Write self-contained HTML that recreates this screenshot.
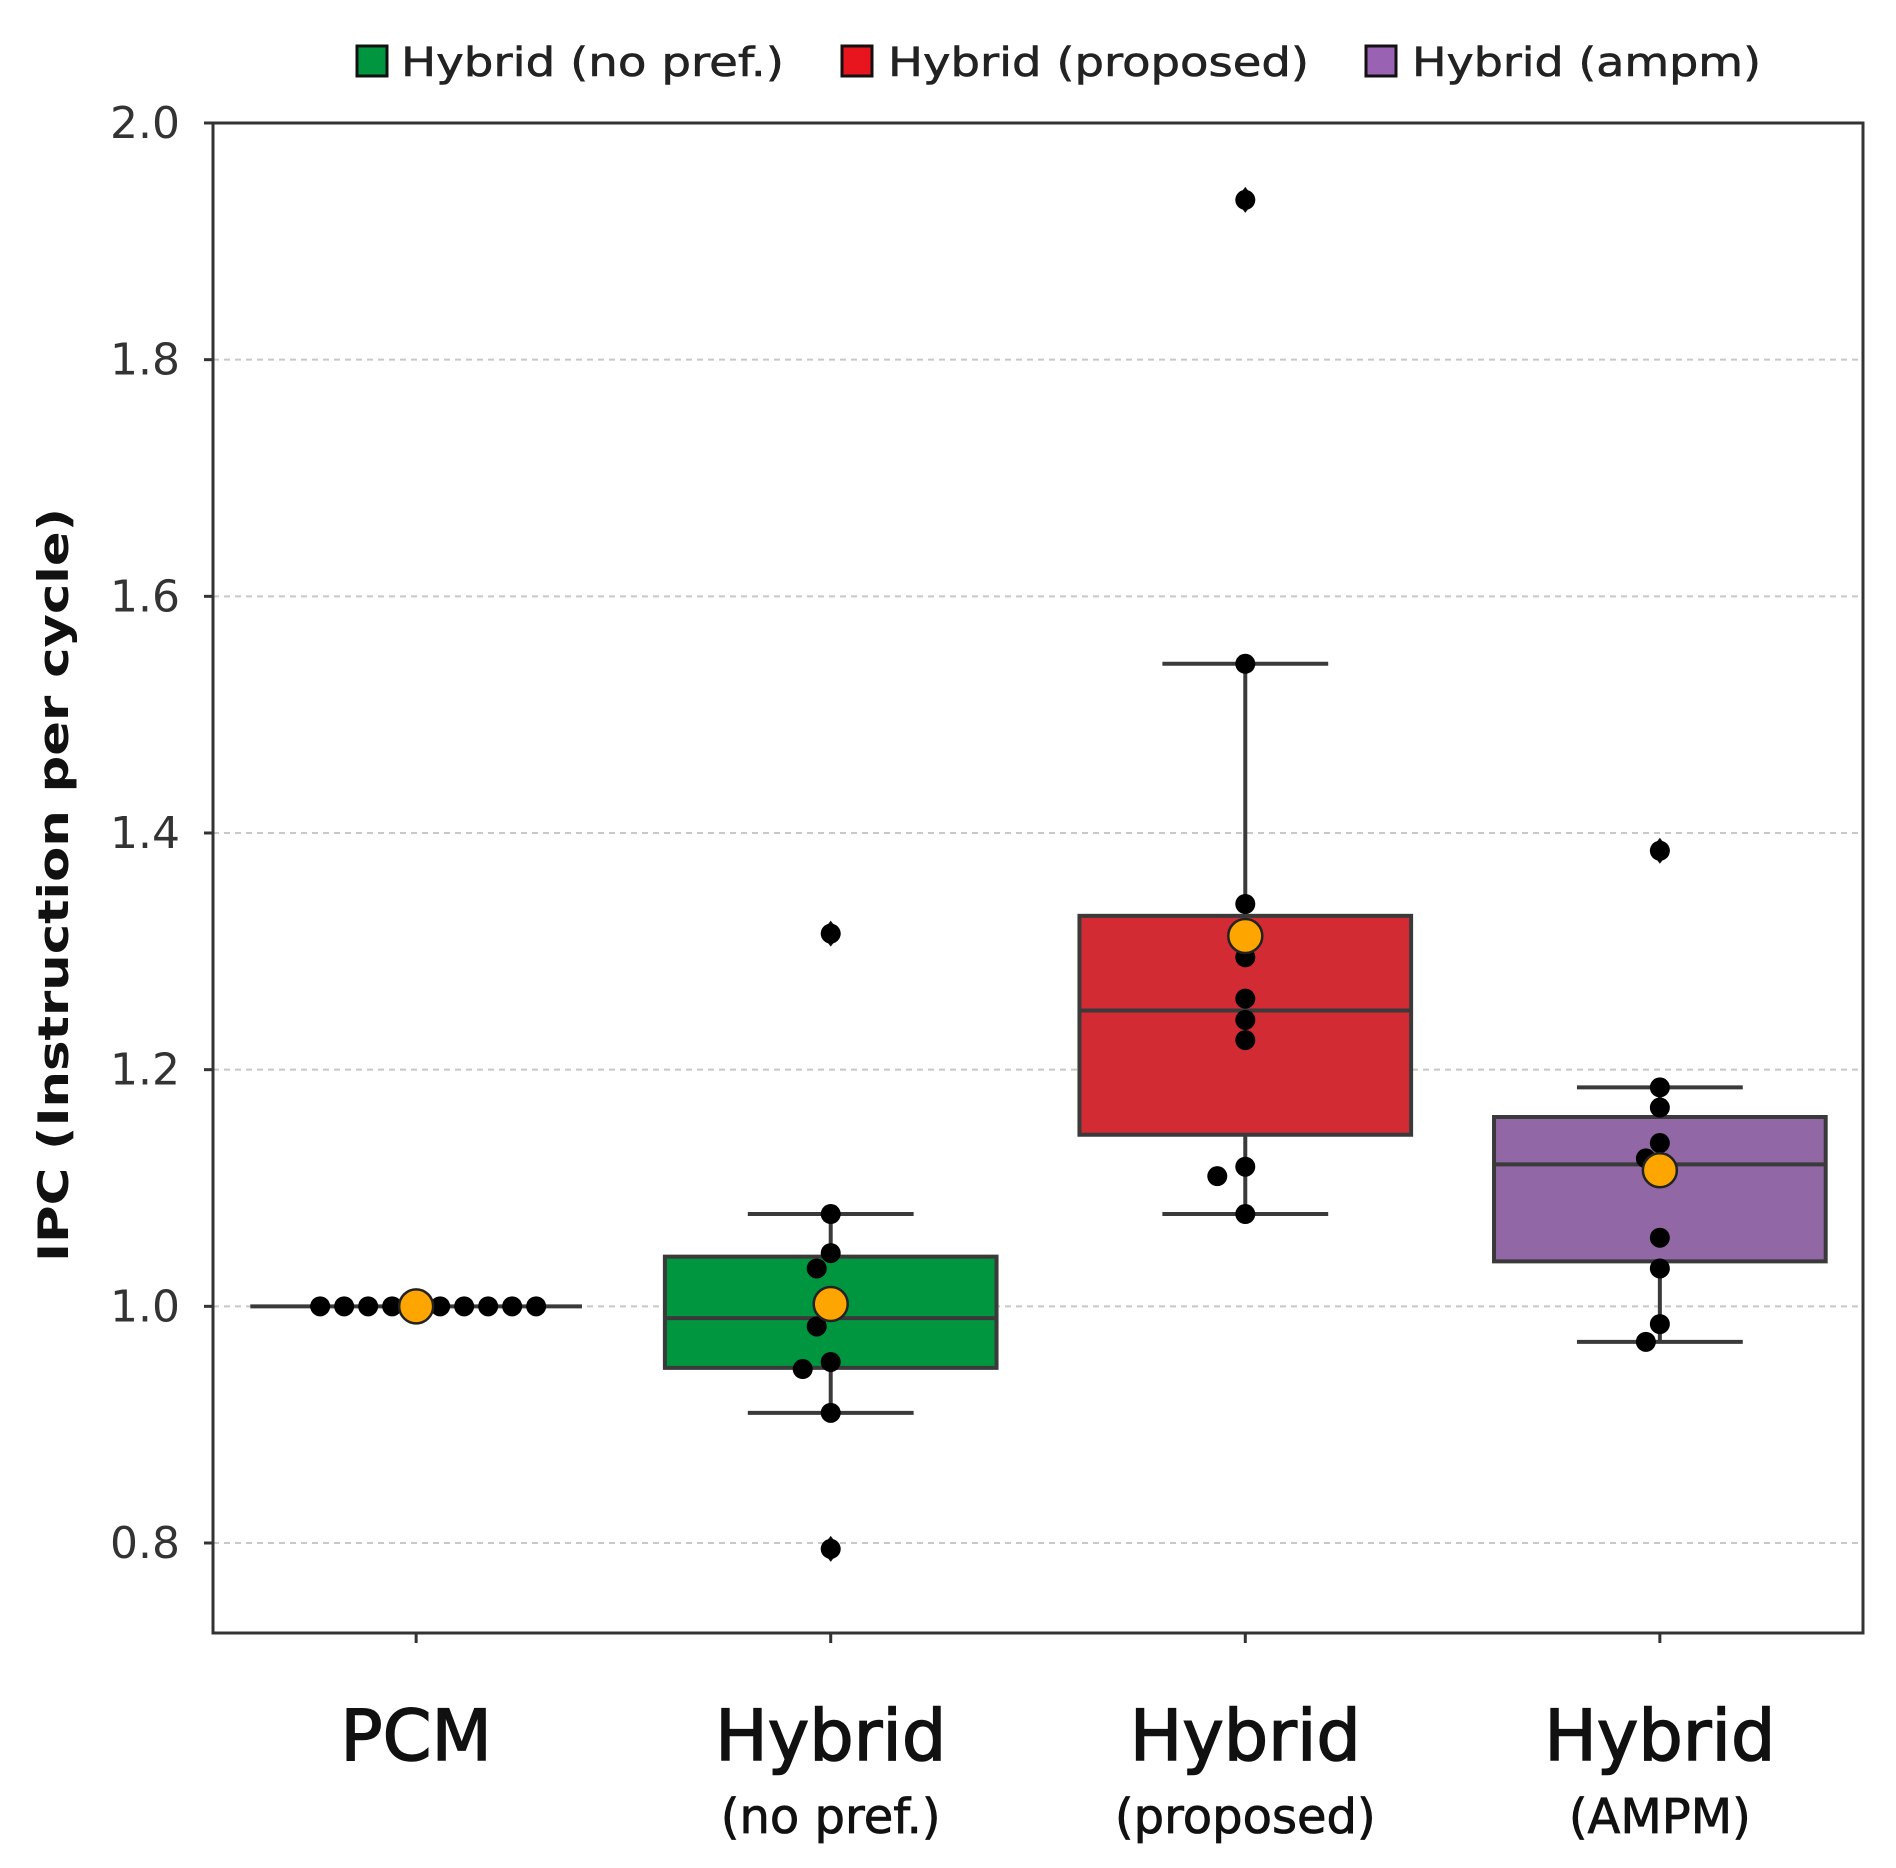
<!DOCTYPE html>
<html><head><meta charset="utf-8"><style>
html,body{margin:0;padding:0;background:#fff;}
svg{display:block;font-family:"DejaVu Sans","Liberation Sans",sans-serif;}
</style></head><body>
<svg id="chart" width="1896" height="1868" viewBox="0 0 1896 1868">
<g id="grid"></g>
<g id="boxes"></g>
<g id="pts"></g>
<rect x="213" y="123" width="1650" height="1510" fill="none" stroke="#333" stroke-width="3"/>
<g id="yticks"></g>
<g id="xticks"></g>
<text transform="translate(68,885) rotate(-90)" text-anchor="middle" font-size="42" font-weight="bold" fill="#111" textLength="754" lengthAdjust="spacingAndGlyphs">IPC (Instruction per cycle)</text>
<g>
<g><rect x="357" y="46" width="30" height="30" fill="#00963f" stroke="#111" stroke-width="3"/><text x="401" y="76" font-size="40" fill="#222" stroke="#222" stroke-width="0.6" textLength="383" lengthAdjust="spacingAndGlyphs">Hybrid (no pref.)</text></g>
<g><rect x="842" y="46" width="30" height="30" fill="#e8151f" stroke="#111" stroke-width="3"/><text x="888" y="76" font-size="40" fill="#222" stroke="#222" stroke-width="0.6" textLength="421" lengthAdjust="spacingAndGlyphs">Hybrid (proposed)</text></g>
<g><rect x="1366" y="46" width="30" height="30" fill="#9a62b3" stroke="#111" stroke-width="3"/><text x="1412" y="76" font-size="40" fill="#222" stroke="#222" stroke-width="0.6" textLength="349" lengthAdjust="spacingAndGlyphs">Hybrid (ampm)</text></g>
</g>
</svg>
<script>
const categories = ["PCM","Hybrid","Hybrid","Hybrid"];
const subLabels = ["","(no pref.)","(proposed)","(AMPM)"];
const colors = ["#ffffff","#00963f","#d22b33","#9168a5"];
const q1 = [1.0,0.948,1.145,1.038];
const medians = [1.0,0.99,1.25,1.12];
const q3 = [1.0,1.042,1.33,1.16];
const whiskLo = [1.0,0.91,1.078,0.97];
const whiskHi = [1.0,1.078,1.543,1.185];
const outliers = [[],[1.315,0.795],[1.935],[1.385]];
const points = [
 [1,1,1,1,1,1,1,1,1,1],
 [1.078,1.045,1.032,0.998,0.983,0.953,0.947,0.91,1.315,0.795],
 [1.543,1.34,1.295,1.26,1.242,1.225,1.118,1.11,1.078,1.935],
 [1.185,1.168,1.138,1.125,1.11,1.058,1.032,0.985,0.97,1.385]
];
const means = [1.0,1.002,1.313,1.115];
const yTicks = [0.8,1.0,1.2,1.4,1.6,1.8,2.0];

const NS="http://www.w3.org/2000/svg";
const X0=213,X1=1863,XMIN=-0.49,XMAX=3.49;
const Y0=123,YB=1543,VMAX=2.0,VMIN=0.8;
const x=i=>X0+(i-XMIN)/(XMAX-XMIN)*(X1-X0);
const y=v=>Y0+(VMAX-v)/(VMAX-VMIN)*(YB-Y0);
const step=x(1)-x(0), bw=step*0.8;
function mk(tag,attrs,parent){const e=document.createElementNS(NS,tag);for(const k in attrs)e.setAttribute(k,attrs[k]);parent.appendChild(e);return e;}
const G=id=>document.getElementById(id);

yTicks.forEach(t=>{
 if(t<2.0){const l=mk('line',{x1:X0,x2:X1,y1:y(t),y2:y(t),stroke:'#c8c8c8','stroke-width':2,'stroke-dasharray':'6,5'},G('grid'));
 
 }
 mk('line',{x1:X0-9,x2:X0,y1:y(t),y2:y(t),stroke:'#333','stroke-width':3},G('yticks'));
 const tx=mk('text',{x:X0-33,y:y(t)+15,'text-anchor':'end','font-size':44,fill:'#333'},G('yticks'));
 tx.textContent=t.toFixed(1);
 
 
});

categories.forEach((c,i)=>{
 const cx=x(i);
 mk('line',{x1:cx,x2:cx,y1:1633,y2:1643,stroke:'#333','stroke-width':3},G('xticks'));
 const t=mk('text',{x:cx,y:1760,'text-anchor':'middle','font-size':70,fill:'#111',stroke:'#111','stroke-width':1.5},G('xticks'));
 t.textContent=c;
 
 
 if(subLabels[i]){const s=mk('text',{x:cx,y:1833,'text-anchor':'middle','font-size':48,fill:'#111',stroke:'#111','stroke-width':0.8},G('xticks'));
 s.textContent=subLabels[i];
 
 }

 const g=mk('g',{},G('boxes'));
 
 
 const st={stroke:'#3a3a3a','stroke-width':4};
 if(i===0){
  mk('line',Object.assign({x1:cx-bw/2,x2:cx+bw/2,y1:y(medians[i]),y2:y(medians[i])},st),g);
 } else {
  const cw=bw*0.5;
  mk('line',Object.assign({x1:cx,x2:cx,y1:y(whiskHi[i]),y2:y(q3[i])},st),g);
  mk('line',Object.assign({x1:cx,x2:cx,y1:y(q1[i]),y2:y(whiskLo[i])},st),g);
  mk('line',Object.assign({x1:cx-cw/2,x2:cx+cw/2,y1:y(whiskHi[i]),y2:y(whiskHi[i])},st),g);
  mk('line',Object.assign({x1:cx-cw/2,x2:cx+cw/2,y1:y(whiskLo[i]),y2:y(whiskLo[i])},st),g);
  mk('rect',Object.assign({x:cx-bw/2,y:y(q3[i]),width:bw,height:y(q1[i])-y(q3[i]),fill:colors[i]},st),g);
  mk('line',Object.assign({x1:cx-bw/2,x2:cx+bw/2,y1:y(medians[i]),y2:y(medians[i])},st),g);
 }
 outliers[i].forEach(v=>{
  const d=mk('path',{d:`M${cx} ${y(v)-13} L${cx+10} ${y(v)} L${cx} ${y(v)+13} L${cx-10} ${y(v)} Z`,fill:'#111'},G('pts'));
  
  
 });
 const r=10, placed=[];
 const sp = i===0 ? 24 : 14;
 points[i].forEach(v=>{
  const py=y(v); let off=0,k=0;
  const ok=o=>placed.every(p=>Math.hypot(p[0]-o,p[1]-py)>=(i===0?2*r+3:2*r-2));
  while(!ok(off)){k++;off=(k%2?(i===0?1:-1):(i===0?-1:1))*Math.ceil(k/2)*sp;if(k>40)break;}
  placed.push([off,py]);
  const dot=mk('circle',{cx:cx+off,cy:py,r:r,fill:'#000'},G('pts'));
  
  
 });
 const m=mk('circle',{cx:cx,cy:y(means[i]),r:17,fill:'#ffa500',stroke:'#222','stroke-width':2.5},G('pts'));
 
 
});
</script>
</body></html>
